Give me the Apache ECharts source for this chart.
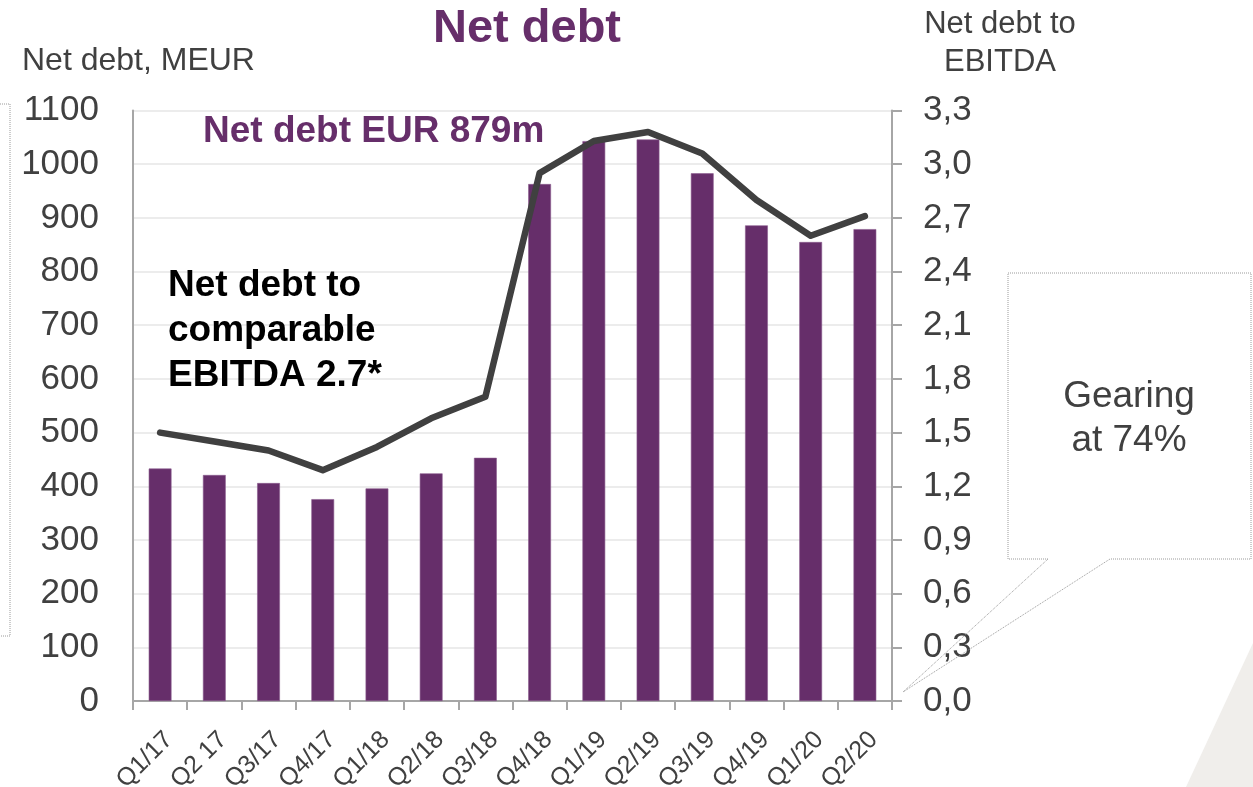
<!DOCTYPE html>
<html>
<head>
<meta charset="utf-8">
<script src="https://cdn.jsdelivr.net/npm/echarts@6/dist/echarts.min.js"></script>
<style>
  html, body { margin: 0; padding: 0; background: #ffffff; }
  #chart { width: 1253px; height: 787px; }
</style>
</head>
<body>
<div id="chart"></div>
<script>
// Quarterly net debt (MEUR) and net debt to EBITDA ratio
const quarters = ['Q1/17', 'Q2 17', 'Q3/17', 'Q4/17', 'Q1/18', 'Q2/18', 'Q3/18',
                  'Q4/18', 'Q1/19', 'Q2/19', 'Q3/19', 'Q4/19', 'Q1/20', 'Q2/20'];
const netDebt = [433, 421, 406, 376, 396, 424, 453, 963, 1043, 1046, 983, 886, 855, 879];
const netDebtToEbitda = [1.50, 1.45, 1.40, 1.29, 1.42, 1.58, 1.70, 2.95, 3.13, 3.18, 3.06, 2.80, 2.60, 2.71];

const FONT = '"Liberation Sans", Arial, sans-serif';
const PURPLE = '#662e6a';
const TEXT = '#404040';

const chart = echarts.init(document.getElementById('chart'), null, { renderer: 'canvas' });

chart.setOption({
  backgroundColor: '#ffffff',
  animation: false,
  textStyle: { fontFamily: FONT },
  grid: {
    left: 133, right: 361, top: 110.5, bottom: 86,
    containLabel: false, outerBoundsMode: 'none'
  },
  xAxis: {
    type: 'category',
    data: quarters,
    boundaryGap: true,
    axisLine: { show: true, lineStyle: { color: '#a6a6a6', width: 2 } },
    axisTick: { show: true, alignWithLabel: false, length: 9, lineStyle: { color: '#a6a6a6', width: 2 } },
    axisLabel: {
      rotate: 45, fontSize: 25, color: TEXT, fontFamily: FONT, margin: 26,
      verticalAlign: 'top', interval: 0
    },
    splitLine: { show: false }
  },
  yAxis: [
    {
      type: 'value',
      min: 0, max: 1100, interval: 100,
      position: 'left',
      axisLine: { show: true, lineStyle: { color: '#a6a6a6', width: 2 } },
      axisTick: { show: false },
      axisLabel: { fontSize: 35, color: TEXT, fontFamily: FONT, margin: 34, formatter: v => String(v) },
      splitLine: { show: true, lineStyle: { color: '#ececec', width: 2 } }
    },
    {
      type: 'value',
      min: 0, max: 3.3, interval: 0.3,
      position: 'right',
      axisLine: { show: true, lineStyle: { color: '#a6a6a6', width: 2 } },
      axisTick: { show: true, inside: false, length: 10, lineStyle: { color: '#a6a6a6', width: 2 } },
      axisLabel: {
        fontSize: 35, color: TEXT, fontFamily: FONT, margin: 31,
        formatter: v => v.toFixed(1).replace('.', ',')
      },
      splitLine: { show: false }
    }
  ],
  series: [
    {
      name: 'Net debt, MEUR',
      type: 'bar',
      yAxisIndex: 0,
      data: netDebt,
      barWidth: '42%',
      itemStyle: { color: PURPLE, borderColor: '#8a5a8d', borderWidth: 0.6 },
      z: 2
    },
    {
      name: 'Net debt to EBITDA',
      type: 'line',
      yAxisIndex: 1,
      data: netDebtToEbitda,
      symbol: 'none',
      smooth: false,
      lineStyle: { color: '#404040', width: 6.5, cap: 'round', join: 'round' },
      z: 3
    }
  ],
  graphic: [
    // light corner shape at the bottom right
    {
      type: 'polygon', silent: true, z: -1,
      shape: { points: [[1253, 643], [1253, 787], [1186, 787]] },
      style: { fill: '#f0eeeb' }
    },
    // dotted box partly off the left edge
    {
      type: 'rect', silent: true,
      shape: { x: -20, y: 104, width: 30, height: 532 },
      style: { fill: 'none', stroke: '#9a9a9a', lineWidth: 1, lineDash: [1, 1] }
    },
    // gearing callout
    {
      type: 'polyline', silent: true, z: 10,
      shape: { points: [[1048, 559], [1008, 559], [1008, 273], [1251, 273], [1251, 559], [1110, 559], [903, 692], [1048, 559]] },
      style: { fill: 'none', stroke: '#9a9a9a', lineWidth: 1, lineDash: [1, 1] }
    },
    {
      type: 'text', silent: true, z: 10,
      style: {
        x: 1129, y: 419, text: 'Gearing\nat 74%', align: 'center', verticalAlign: 'middle',
        font: '37px ' + FONT, fill: TEXT, lineHeight: 44
      }
    },
    // headings
    {
      type: 'text', silent: true,
      style: {
        x: 527, y: 29, text: 'Net debt', align: 'center', verticalAlign: 'middle',
        font: 'bold 47px ' + FONT, fill: PURPLE
      }
    },
    {
      type: 'text', silent: true,
      style: {
        x: 22, y: 61, text: 'Net debt, MEUR', align: 'left', verticalAlign: 'middle',
        font: '32px ' + FONT, fill: TEXT
      }
    },
    {
      type: 'text', silent: true,
      style: {
        x: 1000, y: 43, text: 'Net debt to\nEBITDA', align: 'center', verticalAlign: 'middle',
        font: '31px ' + FONT, fill: TEXT, lineHeight: 38
      }
    },
    {
      type: 'text', silent: true, z: 10,
      style: {
        x: 203, y: 132, text: 'Net debt EUR 879m', align: 'left', verticalAlign: 'middle',
        font: 'bold 37px ' + FONT, fill: PURPLE
      }
    },
    {
      type: 'text', silent: true, z: 10,
      style: {
        x: 168, y: 331, text: 'Net debt to\ncomparable\nEBITDA 2.7*', align: 'left', verticalAlign: 'middle',
        font: 'bold 37px ' + FONT, fill: '#000000', lineHeight: 45
      }
    }
  ]
});
</script>
</body>
</html>
